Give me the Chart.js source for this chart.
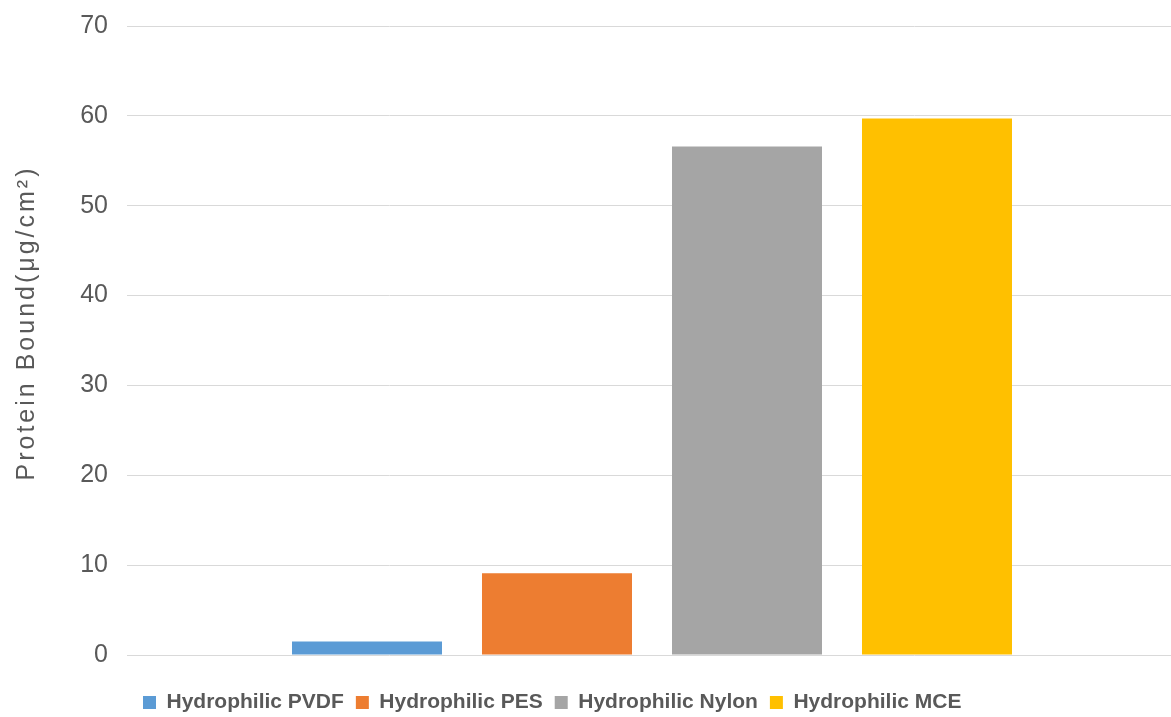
<!DOCTYPE html>
<html>
<head>
<meta charset="utf-8">
<title>Protein Bound by Membrane Type</title>
<script src="https://cdn.jsdelivr.net/npm/chart.js@4.4.1/dist/chart.umd.min.js"></script>
<style>
  html, body { margin: 0; padding: 0; background: #ffffff; overflow: hidden; }
  #wrap { width: 1171px; height: 717px; overflow: hidden; position: relative; }
  canvas { display: block; }
</style>
</head>
<body>
<div id="wrap"><canvas id="chart" width="1180" height="717"></canvas></div>
<script>
// Membrane types and the amount of protein each binds (µg/cm²)
const membranes = ['Hydrophilic PVDF', 'Hydrophilic PES', 'Hydrophilic Nylon', 'Hydrophilic MCE'];
const proteinBound = [1.5, 9.1, 56.6, 59.7];
const barColors = ['#5b9bd5', '#ed7d31', '#a5a5a5', '#ffc000'];

// Value axis
const yAxisMin = 0;
const yAxisMax = 70;
const yAxisStep = 10;
const yAxisTitle = 'Protein Bound(μg/cm²)';

const textGray = '#595959';

const datasets = membranes.map((name, i) => ({
  label: name,
  data: [proteinBound[i]],
  backgroundColor: barColors[i],
  borderWidth: 0,
  categoryPercentage: 0.7238,
  barPercentage: 0.7895
}));

// Rotated axis title with a little letter spacing
const axisTitlePlugin = {
  id: 'axisTitle',
  afterDraw(chart) {
    const ctx = chart.ctx;
    ctx.save();
    ctx.translate(27, 323);
    ctx.rotate(-Math.PI / 2);
    ctx.font = '25px "Liberation Sans", Arial, sans-serif';
    ctx.fillStyle = textGray;
    ctx.textAlign = 'center';
    ctx.textBaseline = 'middle';
    if ('letterSpacing' in ctx) ctx.letterSpacing = '3px';
    ctx.fillText(yAxisTitle, 0, 0);
    ctx.restore();
  }
};

// Place the legend row under the plot, starting near the value axis
const legendPlacePlugin = {
  id: 'legendPlace',
  afterLayout(chart) {
    const lg = chart.legend;
    if (!lg) return;
    const h = lg.height;
    lg.left = 131;
    lg.top = 680;
    lg.bottom = lg.top + h;
  }
};

new Chart(document.getElementById('chart'), {
  type: 'bar',
  data: {
    labels: [''],
    datasets: datasets
  },
  options: {
    responsive: false,
    devicePixelRatio: 1,
    animation: false,
    layout: { padding: { top: 26, right: 3, bottom: 19, left: 0 } },
    plugins: {
      legend: {
        display: true,
        position: 'bottom',
        align: 'start',
        labels: {
          boxWidth: 13,
          boxHeight: 13,
          padding: 12,
          color: textGray,
          font: { family: '"Liberation Sans", Arial, sans-serif', size: 21, weight: 'bold' }
        }
      },
      tooltip: { enabled: false },
      title: { display: false }
    },
    scales: {
      x: {
        display: false,
        grid: { display: false }
      },
      y: {
        min: yAxisMin,
        max: yAxisMax,
        border: { display: false },
        grid: { color: '#d9d9d9', lineWidth: 1, drawTicks: false },
        ticks: {
          stepSize: yAxisStep,
          padding: 19,
          color: textGray,
          font: { family: '"Liberation Sans", Arial, sans-serif', size: 25 }
        },
        afterFit(scale) {
          scale.width = 127;
          scale.paddingTop = 0;
          scale.paddingBottom = 0;
        }
      }
    }
  },
  plugins: [axisTitlePlugin, legendPlacePlugin]
});
</script>
</body>
</html>
